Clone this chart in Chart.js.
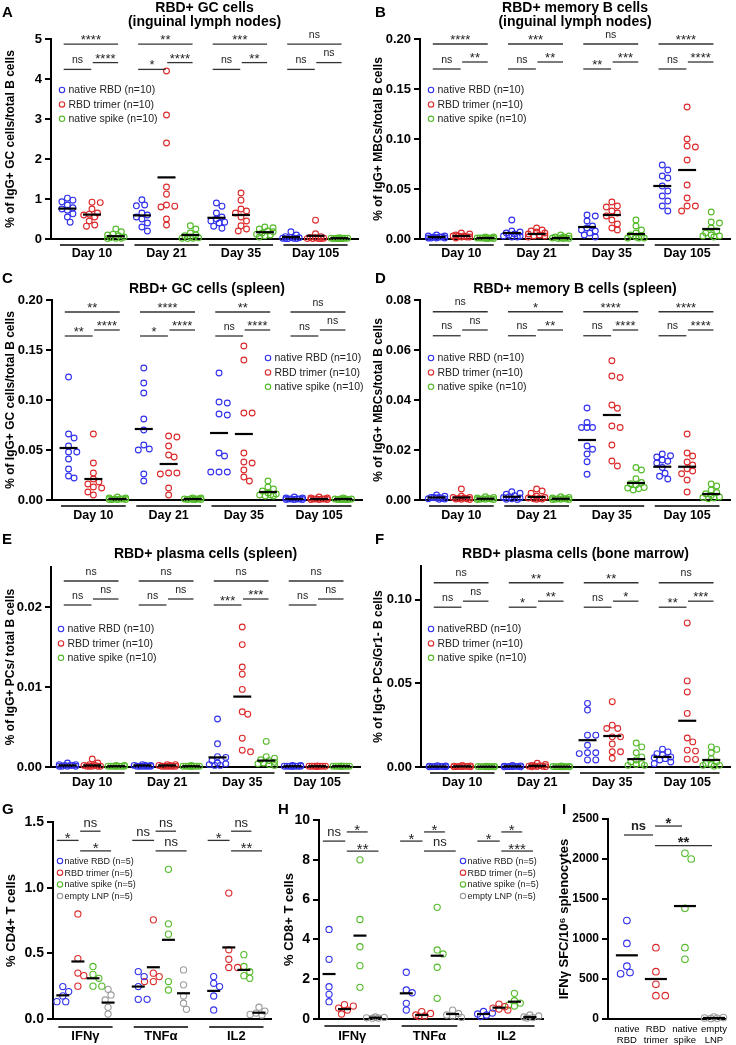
<!DOCTYPE html>
<html>
<head>
<meta charset="utf-8">
<script src="https://cdn.jsdelivr.net/npm/chart.js@4.4.1/dist/chart.umd.min.js"></script>
<style>
  body { margin: 0; background: #fff; width: 736px; height: 1045px; position: relative; overflow: hidden; }
</style>
</head>
<body>
<script>
// ---- categories / labels ----
const dayLabels = ['Day 10', 'Day 21', 'Day 35', 'Day 105'];
const cytokines = ['IFNγ', 'TNFα', 'IL2'];
const bNames = ['native RBD (n=10)', 'RBD trimer (n=10)', 'native spike (n=10)'];
const bNamesBm = ['nativeRBD (n=10)', 'RBD trimer (n=10)', 'native spike (n=10)'];
const tNames = ['native RBD (n=5)', 'RBD trimer (n=5)', 'native spike (n=5)', 'empty LNP (n=5)'];
const spotCats = [['native', 'RBD'], ['RBD', 'trimer'], ['native', 'spike'], ['empty', 'LNP']];

// ---- tick labels ----
const ticksA = [0, 1, 2, 3, 4, 5];
const ticksBC = [0, 0.05, 0.10, 0.15, 0.20];
const ticksD = [0, 0.02, 0.04, 0.06, 0.08];
const ticksE = [0, 0.01, 0.02];
const ticksF = [0, 0.05, 0.10];
const ticksG = [0, 0.5, 1.0, 1.5];
const ticksH = [0, 2, 4, 6, 8, 10];
const ticksI = [0, 500, 1000, 1500, 2000, 2500];

// ---- A: GC cells, inguinal LN (per day: 10 mice) ----
const gcLnRbd = [[1.02, 0.97, 0.93, 0.85, 0.78, 0.75, 0.72, 0.63, 0.55, 0.42], [0.98, 0.85, 0.83, 0.65, 0.6, 0.55, 0.5, 0.4, 0.3, 0.2], [0.9, 0.82, 0.65, 0.55, 0.5, 0.45, 0.42, 0.4, 0.32, 0.27], [0.18, 0.1, 0.06, 0.04, 0.03, 0.02, 0.02, 0.01, 0.01, 0.01]];
const gcLnTrimer = [[0.92, 0.91, 0.75, 0.65, 0.62, 0.6, 0.55, 0.45, 0.35, 0.32], [4.2, 3.1, 2.4, 1.3, 1.12, 0.85, 0.82, 0.8, 0.5, 0.35], [1.15, 0.97, 0.75, 0.7, 0.65, 0.55, 0.45, 0.33, 0.25, 0.2], [0.47, 0.13, 0.06, 0.04, 0.03, 0.02, 0.01, 0.01, 0.01, 0.01]];
const gcLnSpike = [[0.25, 0.18, 0.12, 0.1, 0.08, 0.05, 0.03, 0.02, 0.02, 0.01], [0.33, 0.25, 0.15, 0.1, 0.08, 0.05, 0.03, 0.02, 0.02, 0.01], [0.3, 0.28, 0.25, 0.2, 0.18, 0.15, 0.12, 0.1, 0.08, 0.05], [0.03, 0.02, 0.02, 0.02, 0.02, 0.02, 0.01, 0.01, 0.01, 0.01]];
const gcLnMean = [[0.76, 0.59, 0.53, 0.05], [0.61, 1.54, 0.6, 0.08], [0.07, 0.1, 0.17, 0.02]];
const gcLnSig = [['****', 'ns', '****'], ['**', '*', '****'], ['***', 'ns', '**'], ['ns', 'ns', 'ns']];

// ---- B: memory B cells, inguinal LN ----
const mbcLnRbd = [[0.004, 0.003, 0.003, 0.002, 0.002, 0.002, 0.001, 0.001, 0.001, 0.001], [0.019, 0.008, 0.007, 0.006, 0.005, 0.004, 0.003, 0.003, 0.002, 0.002], [0.024, 0.023, 0.018, 0.013, 0.011, 0.009, 0.008, 0.006, 0.004, 0.002], [0.074, 0.069, 0.063, 0.061, 0.053, 0.048, 0.043, 0.038, 0.033, 0.028]];
const mbcLnTrimer = [[0.006, 0.005, 0.004, 0.003, 0.003, 0.003, 0.002, 0.002, 0.002, 0.001], [0.011, 0.009, 0.008, 0.007, 0.006, 0.005, 0.004, 0.003, 0.003, 0.002], [0.037, 0.033, 0.032, 0.028, 0.026, 0.023, 0.019, 0.015, 0.011, 0.009], [0.132, 0.1, 0.093, 0.092, 0.079, 0.054, 0.041, 0.033, 0.033, 0.028]];
const mbcLnSpike = [[0.002, 0.002, 0.001, 0.001, 0.001, 0.001, 0.001, 0.0005, 0.0005, 0.0005], [0.004, 0.003, 0.002, 0.002, 0.001, 0.001, 0.001, 0.0005, 0.0005, 0.0005], [0.019, 0.013, 0.009, 0.006, 0.004, 0.003, 0.002, 0.001, 0.001, 0.001], [0.027, 0.017, 0.016, 0.011, 0.008, 0.006, 0.004, 0.003, 0.003, 0.002]];
const mbcLnMean = [[0.002, 0.006, 0.012, 0.053], [0.003, 0.005, 0.024, 0.069], [0.001, 0.001, 0.005, 0.010]];
const mbcLnSig = [['****', 'ns', '**'], ['***', 'ns', '**'], ['ns', '**', '***'], ['****', 'ns', '****']];

// ---- C: GC cells, spleen ----
const gcSpRbd = [[0.123, 0.066, 0.062, 0.054, 0.048, 0.048, 0.041, 0.031, 0.024, 0.022], [0.132, 0.117, 0.107, 0.081, 0.07, 0.055, 0.051, 0.05, 0.026, 0.019], [0.127, 0.098, 0.097, 0.086, 0.085, 0.047, 0.044, 0.028, 0.028, 0.028], [0.003, 0.002, 0.002, 0.001, 0.001, 0.001, 0.001, 0.0005, 0.0005, 0.0005]];
const gcSpTrimer = [[0.066, 0.037, 0.027, 0.021, 0.018, 0.016, 0.013, 0.012, 0.008, 0.005], [0.064, 0.063, 0.054, 0.045, 0.043, 0.027, 0.027, 0.026, 0.012, 0.005], [0.154, 0.14, 0.087, 0.087, 0.047, 0.038, 0.037, 0.03, 0.023, 0.019], [0.003, 0.002, 0.002, 0.001, 0.001, 0.001, 0.001, 0.0005, 0.0005, 0.0005]];
const gcSpSpike = [[0.003, 0.002, 0.002, 0.001, 0.001, 0.001, 0.0005, 0.0005, 0.0005, 0.0005], [0.002, 0.002, 0.001, 0.001, 0.001, 0.001, 0.0005, 0.0005, 0.0005, 0.0005], [0.019, 0.013, 0.011, 0.009, 0.007, 0.006, 0.005, 0.005, 0.004, 0.004], [0.002, 0.001, 0.001, 0.001, 0.001, 0.0005, 0.0005, 0.0005, 0.0005, 0.0005]];
const gcSpMean = [[0.052, 0.071, 0.067, 0.001], [0.021, 0.036, 0.066, 0.001], [0.001, 0.001, 0.008, 0.001]];
const gcSpSig = [['**', '**', '****'], ['****', '*', '****'], ['**', 'ns', '****'], ['ns', 'ns', 'ns']];

// ---- D: memory B cells, spleen ----
const mbcSpRbd = [[0.002, 0.0015, 0.001, 0.001, 0.001, 0.0008, 0.0006, 0.0005, 0.0004, 0.0003], [0.0033, 0.0027, 0.0023, 0.0017, 0.0012, 0.001, 0.0008, 0.0005, 0.0003, 0.0002], [0.0368, 0.031, 0.029, 0.029, 0.029, 0.0216, 0.0203, 0.0184, 0.0153, 0.0103], [0.0184, 0.0177, 0.0172, 0.016, 0.0155, 0.0148, 0.013, 0.0107, 0.0095, 0.0084]];
const mbcSpTrimer = [[0.0044, 0.0015, 0.001, 0.001, 0.0008, 0.0006, 0.0005, 0.0004, 0.0003, 0.0002], [0.0044, 0.0036, 0.0027, 0.0015, 0.001, 0.0008, 0.0006, 0.0005, 0.0004, 0.0003], [0.0557, 0.0496, 0.049, 0.038, 0.0367, 0.0296, 0.029, 0.022, 0.0156, 0.0136], [0.0264, 0.0188, 0.0176, 0.0152, 0.014, 0.0125, 0.0116, 0.0105, 0.008, 0.0032]];
const mbcSpSpike = [[0.0013, 0.001, 0.0008, 0.0006, 0.0005, 0.0004, 0.0003, 0.0003, 0.0002, 0.0002], [0.0013, 0.001, 0.0008, 0.0006, 0.0005, 0.0004, 0.0003, 0.0003, 0.0002, 0.0002], [0.013, 0.012, 0.0085, 0.007, 0.0065, 0.006, 0.005, 0.0048, 0.0045, 0.004], [0.0064, 0.0056, 0.004, 0.003, 0.0025, 0.0018, 0.0012, 0.001, 0.0008, 0.0005]];
const mbcSpMean = [[0.001, 0.0013, 0.024, 0.0133], [0.001, 0.0012, 0.034, 0.0133], [0.0005, 0.0005, 0.0068, 0.0024]];
const mbcSpSig = [['ns', 'ns', 'ns'], ['*', 'ns', '**'], ['****', 'ns', '****'], ['****', 'ns', '****']];

// ---- E: plasma cells, spleen ----
const pcSpRbd = [[0.0005, 0.0003, 0.0003, 0.0002, 0.0002, 0.0002, 0.0001, 0.0001, 0.0001, 0.0001], [0.0003, 0.0002, 0.0002, 0.0002, 0.0001, 0.0001, 0.0001, 0.0001, 0.0001, 0.0001], [0.006, 0.0029, 0.0013, 0.0012, 0.0008, 0.0005, 0.0004, 0.0003, 0.0002, 0.0002], [0.0002, 0.0002, 0.0001, 0.0001, 0.0001, 0.0001, 0.0001, 0.0001, 0.0001, 0.0001]];
const pcSpTrimer = [[0.001, 0.0005, 0.0003, 0.0002, 0.0002, 0.0001, 0.0001, 0.0001, 0.0001, 0.0001], [0.0003, 0.0003, 0.0002, 0.0002, 0.0001, 0.0001, 0.0001, 0.0001, 0.0001, 0.0001], [0.0175, 0.0153, 0.0125, 0.0116, 0.0097, 0.0069, 0.0066, 0.0036, 0.0021, 0.0019], [0.0001, 0.0001, 0.0001, 0.0001, 0.0001, 0.0001, 0.0001, 0.0001, 0.0001, 0.0001]];
const pcSpSpike = [[0.0002, 0.0002, 0.0001, 0.0001, 0.0001, 0.0001, 0.0001, 0.0001, 0.0001, 0.0001], [0.0002, 0.0001, 0.0001, 0.0001, 0.0001, 0.0001, 0.0001, 0.0001, 0.0001, 0.0001], [0.0032, 0.0013, 0.0011, 0.0009, 0.0008, 0.0006, 0.0005, 0.0004, 0.0003, 0.0002], [0.0001, 0.0001, 0.0001, 0.0001, 0.0001, 0.0001, 0.0001, 0.0001, 0.0001, 0.0001]];
const pcSpMean = [[0.0002, 0.0002, 0.0012, 0.0001], [0.0002, 0.0002, 0.0088, 0.0001], [0.0001, 0.0001, 0.0008, 0.0001]];
const pcSpSig = [['ns', 'ns', 'ns'], ['ns', 'ns', 'ns'], ['ns', '***', '***'], ['ns', 'ns', 'ns']];

// ---- F: plasma cells, bone marrow ----
const pcBmRbd = [[0.0008, 0.0006, 0.0005, 0.0004, 0.0003, 0.0003, 0.0002, 0.0002, 0.0001, 0.0001], [0.0009, 0.0007, 0.0005, 0.0004, 0.0003, 0.0003, 0.0002, 0.0002, 0.0001, 0.0001], [0.038, 0.034, 0.019, 0.019, 0.013, 0.0085, 0.0085, 0.008, 0.0042, 0.0042], [0.0107, 0.009, 0.008, 0.0072, 0.006, 0.0055, 0.005, 0.0042, 0.003, 0.002]];
const pcBmTrimer = [[0.001, 0.0007, 0.0005, 0.0004, 0.0003, 0.0003, 0.0002, 0.0002, 0.0001, 0.0001], [0.0022, 0.0015, 0.001, 0.0008, 0.0006, 0.0005, 0.0004, 0.0003, 0.0002, 0.0001], [0.039, 0.025, 0.023, 0.023, 0.018, 0.018, 0.0137, 0.0091, 0.0091, 0.0052], [0.086, 0.0514, 0.0448, 0.032, 0.0173, 0.015, 0.0101, 0.0095, 0.0047, 0.0045]];
const pcBmSpike = [[0.0005, 0.0004, 0.0003, 0.0003, 0.0002, 0.0002, 0.0002, 0.0001, 0.0001, 0.0001], [0.0006, 0.0004, 0.0003, 0.0003, 0.0002, 0.0002, 0.0002, 0.0001, 0.0001, 0.0001], [0.0143, 0.012, 0.0085, 0.006, 0.0042, 0.003, 0.002, 0.0015, 0.001, 0.001], [0.012, 0.0105, 0.0085, 0.005, 0.003, 0.002, 0.0015, 0.001, 0.001, 0.0005]];
const pcBmMean = [[0.0003, 0.0004, 0.016, 0.006], [0.0004, 0.0007, 0.0185, 0.0276], [0.0002, 0.0002, 0.0047, 0.0042]];
const pcBmSig = [['ns', 'ns', 'ns'], ['**', '*', '**'], ['**', 'ns', '*'], ['ns', '**', '***']];

// ---- G: CD4+ T cells (5 mice) ----
const cd4Rbd = [[0.247, 0.209, 0.176, 0.132, 0.132], [0.361, 0.323, 0.247, 0.15, 0.15], [0.323, 0.272, 0.247, 0.175, 0.069]];
const cd4Trimer = [[0.8, 0.46, 0.35, 0.33, 0.25], [0.755, 0.349, 0.323, 0.285, 0.285], [0.959, 0.527, 0.455, 0.392, 0.392]];
const cd4Spike = [[0.4, 0.34, 0.31, 0.25, 0.25], [1.14, 0.725, 0.646, 0.285, 0.221], [0.49, 0.4, 0.36, 0.33, 0.31]];
const cd4Lnp = [[0.226, 0.183, 0.145, 0.089, 0.038], [0.374, 0.26, 0.175, 0.12, 0.074], [0.09, 0.06, 0.045, 0.035, 0.03]];
const cd4Mean = [[0.18, 0.247, 0.214], [0.438, 0.394, 0.545], [0.31, 0.603, 0.374], [0.125, 0.196, 0.048]];
const cd4Sig = [['*', 'ns', '*'], ['ns', 'ns', 'ns'], ['*', 'ns', '**']];

// ---- H: CD8+ T cells ----
const cd8Rbd = [[4.5, 3.0, 1.62, 1.24, 0.87], [2.35, 1.46, 1.32, 0.79, 0.45], [0.38, 0.3, 0.25, 0.2, 0.12]];
const cd8Trimer = [[0.72, 0.65, 0.55, 0.45, 0.25], [0.37, 0.28, 0.2, 0.15, 0.12], [0.75, 0.62, 0.55, 0.5, 0.45]];
const cd8Spike = [[8.0, 5.0, 3.63, 2.68, 1.59], [5.61, 3.47, 3.27, 2.6, 1.04], [1.29, 0.92, 0.8, 0.7, 0.65]];
const cd8Lnp = [[0.1, 0.08, 0.06, 0.05, 0.04], [0.45, 0.28, 0.2, 0.15, 0.08], [0.2, 0.15, 0.1, 0.07, 0.05]];
const cd8Mean = [[2.26, 1.29, 0.25], [0.5, 0.2, 0.57], [4.19, 3.18, 0.87], [0.07, 0.25, 0.1]];
const cd8Sig = [['ns', '*', '**'], ['*', '*', 'ns'], ['*', '*', '***']];

// ---- I: IFNγ ELISpot ----
const spotValues = [[1230, 945, 660, 580, 565], [892, 592, 433, 292, 292], [2071, 2000, 1383, 892, 746], [25, 18, 12, 8, 5]];
const spotMean = [796, 500, 1412, 13];
const spotSig = ['ns', '*', '**'];

// ---- drawing helpers ----
const FONT = "'Liberation Sans', Arial, sans-serif";
const COLORS = ['#3131ec', '#dc2a2c', '#55bb2b', '#9b9b9b'];
Chart.defaults.font.family = FONT;
Chart.defaults.color = '#000';

// three brackets per day: group1-3 (top), group1-2, group2-3
function dayBrackets(sig, lv) {
  return sig.flatMap((s, g) => [
    { x1: g - 0.38, x2: g + 0.35, y: lv[0], text: s[0] },
    { x1: g - 0.38, x2: g - 0.01, y: lv[1], text: s[1] },
    { x1: g + 0.01, x2: g + 0.35, y: lv[2], text: s[2] }
  ]);
}
// T cell brackets: rbd-trimer, trimer-spike, trimer-LNP
function tBrackets(sig, lv) {
  return sig.flatMap((s, g) => [
    { x1: g - 0.38, x2: g - 0.09, y: lv[0], text: s[0] },
    { x1: g - 0.07, x2: g + 0.2, y: lv[1], text: s[1] },
    { x1: g - 0.07, x2: g + 0.34, y: lv[2], text: s[2] }
  ]);
}

const sigSmall = { ns: '10.5px', nsLift: 6.3, star: '13px', starDrop: 0 };
const sigBig = { ns: '13px', nsLift: 4.6, star: '15px', starDrop: 2.6 };
const sigBold = { ns: 'bold 13px', nsLift: 4.6, star: 'bold 15px', starDrop: 1.6 };

const dayOffsets = [-0.33, 0, 0.32];
const tOffsets = [-0.3, -0.1, 0.1, 0.3];
const daySlot = (g, s) => g + dayOffsets[s];
const tSlot = (g, s) => g + tOffsets[s];

function decor(p) {
  return {
    id: 'decor' + p.letter[0],
    afterDatasetsUpdate(chart) {
      // compact beeswarm: overlapping circles spread a little sideways
      const r = p.r, minD = 2 * r, step = r * 0.95;
      chart.data.datasets.forEach((ds, i) => {
        const meta = chart.getDatasetMeta(i);
        const groups = {};
        meta.data.forEach((el, j) => {
          const k = ds.data[j].x;
          (groups[k] = groups[k] || []).push(el);
        });
        Object.values(groups).forEach(els => {
          const base = els[0].x;
          els.sort((a, b) => a.y - b.y);
          const placed = [];
          els.forEach(el => {
            let best = 0, bestD = -1;
            for (let k = 0; k <= 6; k++) {
              const off = (k % 2 ? 1 : -1) * Math.ceil(k / 2) * step;
              let near = Infinity;
              placed.forEach(q => { near = Math.min(near, Math.hypot(q.x - (base + off), q.y - el.y)); });
              if (near >= minD) { best = off; break; }
              if (near > bestD + 0.01) { bestD = near; best = off; }
            }
            el.x = base + best;
            placed.push({ x: el.x, y: el.y });
          });
        });
      });
    },
    afterDatasetsDraw(chart) {
      const { ctx, scales: { x, y } } = chart;
      ctx.save();
      ctx.strokeStyle = '#000';
      ctx.lineWidth = 2.2;
      chart.data.datasets.forEach(ds => {
        ds.means.forEach((m, g) => {
          const cx = x.getPixelForValue(ds.slots[g]);
          const py = y.getPixelForValue(m);
          ctx.beginPath();
          ctx.moveTo(cx - p.meanHalf, py);
          ctx.lineTo(cx + p.meanHalf, py);
          ctx.stroke();
        });
      });
      ctx.restore();
    },
    afterDraw(chart) {
      const { ctx, chartArea: ca, scales: { x, y } } = chart;
      ctx.save();
      ctx.fillStyle = '#000';
      ctx.textBaseline = 'alphabetic';

      ctx.font = 'bold 15px ' + FONT;
      ctx.textAlign = 'left';
      ctx.fillText(p.letter[0], p.letter[1], p.letter[2]);

      if (p.title) {
        ctx.font = 'bold 14px ' + FONT;
        ctx.textAlign = 'center';
        p.title.forEach(t => ctx.fillText(t[0], (ca.left + ca.right) / 2, t[1]));
      }

      if (p.under) {
        ctx.strokeStyle = '#000';
        ctx.lineWidth = 1.5;
        p.cats.forEach((_, g) => {
          const yy = ca.bottom + p.under.gap;
          ctx.beginPath();
          ctx.moveTo(x.getPixelForValue(g - p.under.half), yy);
          ctx.lineTo(x.getPixelForValue(g + p.under.half), yy);
          ctx.stroke();
        });
      }

      ctx.strokeStyle = '#333';
      ctx.fillStyle = '#222';
      ctx.lineWidth = 1.3;
      ctx.textAlign = 'center';
      p.brackets.forEach(b => {
        const x1 = x.getPixelForValue(b.x1), x2 = x.getPixelForValue(b.x2), yy = y.getPixelForValue(b.y);
        ctx.beginPath();
        ctx.moveTo(x1, yy);
        ctx.lineTo(x2, yy);
        ctx.stroke();
        const star = b.text.indexOf('*') >= 0;
        ctx.font = (star ? p.sig.star : p.sig.ns) + ' ' + FONT;
        ctx.fillText(b.text, (x1 + x2) / 2, star ? yy + p.sig.starDrop : yy - p.sig.nsLift);
      });

      if (p.legend) {
        const L = p.legend;
        ctx.textAlign = 'left';
        ctx.textBaseline = 'middle';
        ctx.font = L.font + 'px ' + FONT;
        ctx.lineWidth = 1.1;
        chart.data.datasets.forEach((ds, i) => {
          const lx = ca.left + L.dx, ly = ca.top + L.dy + i * L.row;
          ctx.strokeStyle = COLORS[i];
          ctx.beginPath();
          ctx.arc(lx, ly, L.r, 0, Math.PI * 2);
          ctx.stroke();
          ctx.fillStyle = '#222';
          ctx.fillText(ds.label, lx + L.tx, ly + 0.5);
        });
      }
      ctx.restore();
    }
  };
}

function drawPanel(p) {
  const [left, top, w, h] = p.box;
  const cv = document.createElement('canvas');
  cv.width = w;
  cv.height = h;
  cv.style.cssText = 'position:absolute;left:' + left + 'px;top:' + top + 'px;width:' + w + 'px;height:' + h + 'px';
  document.body.appendChild(cv);

  const datasets = p.series.map((cols, s) => {
    const slots = cols.map((_, g) => p.slot(g, s));
    return {
      label: p.names[s],
      data: cols.flatMap((col, g) => col.map(v => ({ x: slots[g], y: v }))),
      slots: slots,
      means: p.means[s],
      pointRadius: p.r,
      pointHoverRadius: p.r,
      pointBorderWidth: 1.1,
      pointBorderColor: COLORS[s],
      pointBackgroundColor: 'rgba(0,0,0,0)',
      borderColor: COLORS[s],
      showLine: false,
      clip: false
    };
  });

  new Chart(cv, {
    type: 'scatter',
    data: { datasets: datasets },
    options: {
      responsive: false,
      animation: false,
      events: [],
      layout: { padding: { top: p.pad[0], right: p.pad[1], bottom: 0, left: 0 } },
      plugins: { legend: { display: false }, tooltip: { enabled: false } },
      scales: {
        x: {
          type: 'linear',
          min: p.xr[0],
          max: p.xr[1],
          afterBuildTicks: s => { s.ticks = p.cats.map((_, i) => ({ value: i })); },
          afterFit: s => { s.height = p.xHeight; },
          border: { display: true, color: '#000', width: 2 },
          grid: { display: false, drawTicks: false },
          ticks: {
            autoSkip: false, maxRotation: 0, color: '#000', padding: p.xPad,
            font: p.xFont,
            callback: v => p.cats[Math.round(v)]
          }
        },
        y: {
          min: p.yr[0],
          max: p.yr[1],
          afterBuildTicks: s => { s.ticks = p.yTicks.map(v => ({ value: v })); },
          afterFit: s => { s.width = p.yWidth; },
          border: { display: true, color: '#000', width: 2 },
          grid: { drawOnChartArea: false, drawTicks: true, tickLength: 6, color: '#000', lineWidth: 2 },
          ticks: { color: '#000', padding: 3, font: { size: p.tickSize, weight: 'bold' }, callback: v => v.toFixed(p.dec) },
          title: { display: true, text: p.yTitle, color: '#000', font: { size: p.yTitleSize, weight: 'bold' }, padding: { top: p.yTitlePad, bottom: 0 } }
        }
      }
    },
    plugins: [decor(p)]
  });
}

const dayFont = { size: 12.5, weight: 'bold' };
const xrDays = [-0.55, 3.57];
const dayLegend = (dx, dy) => ({ dx: dx, dy: dy, row: 14.4, tx: 6.5, font: 10.5, r: 2.7 });
const tLegend = (dx, dy) => ({ dx: dx, dy: dy, row: 11.7, tx: 4.5, font: 9, r: 2.7 });

const panels = [
  { letter: ['A', 2, 17], box: [0, 0, 368, 268], pad: [39, 10], yWidth: 51, xHeight: 29, xPad: 7.5,
    yr: [0, 5], yTicks: ticksA, dec: 0, yTitle: '% of IgG+ GC cells/total B cells',
    title: [['RBD+ GC cells', 12], ['(inguinal lymph nodes)', 26]],
    series: [gcLnRbd, gcLnTrimer, gcLnSpike], means: gcLnMean, names: bNames,
    brackets: dayBrackets(gcLnSig, [4.87, 4.24, 4.41]), legend: dayLegend(11, 51) },
  { letter: ['B', 7, 17], box: [368, 0, 368, 268], pad: [39, 6], yWidth: 52, xHeight: 29, xPad: 7.5,
    yr: [0, 0.2], yTicks: ticksBC, dec: 2, yTitle: '% of IgG+ MBCs/total B cells',
    title: [['RBD+ memory B cells', 12], ['(inguinal lymph nodes)', 26]],
    series: [mbcLnRbd, mbcLnTrimer, mbcLnSpike], means: mbcLnMean, names: bNames,
    brackets: dayBrackets(mbcLnSig, [0.195, 0.170, 0.177]), legend: dayLegend(11, 51) },
  { letter: ['C', 2, 15], box: [0, 268, 368, 262], pad: [32, 6], yWidth: 52, xHeight: 30, xPad: 8.5,
    yr: [0, 0.2], yTicks: ticksBC, dec: 2, yTitle: '% of IgG+ GC cells/total B cells',
    title: [['RBD+ GC cells (spleen)', 25]],
    series: [gcSpRbd, gcSpTrimer, gcSpSpike], means: gcSpMean, names: bNames,
    brackets: dayBrackets(gcSpSig, [0.188, 0.164, 0.170]), legend: dayLegend(216, 58) },
  { letter: ['D', 7, 15], box: [368, 268, 368, 262], pad: [32, 6], yWidth: 52, xHeight: 30, xPad: 8.5,
    yr: [0, 0.08], yTicks: ticksD, dec: 2, yTitle: '% of IgG+ MBCs/total B cells',
    title: [['RBD+ memory B cells (spleen)', 25]],
    series: [mbcSpRbd, mbcSpTrimer, mbcSpSpike], means: mbcSpMean, names: bNames,
    brackets: dayBrackets(mbcSpSig, [0.0753, 0.0657, 0.068]), legend: dayLegend(11, 58) },
  { letter: ['E', 2, 14], box: [0, 530, 368, 265], pad: [37, 8], yWidth: 51, xHeight: 28, xPad: 8.5,
    yr: [0, 0.025], yTicks: ticksE, dec: 2, yTitle: '% of IgG+ PCs/ total B cells',
    title: [['RBD+ plasma cells (spleen)', 28]],
    series: [pcSpRbd, pcSpTrimer, pcSpSpike], means: pcSpMean, names: bNames,
    brackets: dayBrackets(pcSpSig, [0.02325, 0.02025, 0.0210]), legend: dayLegend(10, 62) },
  { letter: ['F', 7, 14], box: [368, 530, 368, 265], pad: [36, 6], yWidth: 53, xHeight: 28, xPad: 8.5,
    yr: [0, 0.12], yTicks: ticksF, dec: 2, yTitle: '% of IgG+ PCs/Gr1- B cells',
    title: [['RBD+ plasma cells (bone marrow)', 28]],
    series: [pcBmRbd, pcBmTrimer, pcBmSpike], means: pcBmMean, names: bNamesBm,
    brackets: dayBrackets(pcBmSig, [0.110, 0.0954, 0.099]), legend: dayLegend(10, 63) }
].map(p => Object.assign({
  cats: dayLabels, xr: xrDays, slot: daySlot, r: 2.9, meanHalf: 9, tickSize: 13, yTitleSize: 12, yTitlePad: 3,
  xFont: dayFont, under: { half: 0.43, gap: 6 }, sig: sigSmall
}, p));

panels.push(
  { letter: ['G', 2, 19], box: [0, 795, 276, 250], pad: [27, 0], yWidth: 53, xHeight: 26, xPad: 10,
    cats: cytokines, xr: [-0.43, 2.47], slot: tSlot, r: 3.1, meanHalf: 6.5,
    yr: [0, 1.5], yTicks: ticksG, dec: 1, tickSize: 14, yTitle: '% CD4+ T cells', yTitleSize: 13, yTitlePad: 4,
    xFont: { size: 13, weight: 'bold' }, under: { half: 0.36, gap: 8 }, sig: sigBig,
    series: [cd4Rbd, cd4Trimer, cd4Spike, cd4Lnp], means: cd4Mean, names: tNames,
    brackets: tBrackets(cd4Sig, [1.36, 1.43, 1.28]), legend: tLegend(7, 39) },
  { letter: ['H', 2, 19], box: [276, 795, 274, 250], pad: [25, 7], yWidth: 43, xHeight: 26, xPad: 9.5,
    cats: cytokines, xr: [-0.43, 2.47], slot: tSlot, r: 3.1, meanHalf: 6.5,
    yr: [0, 10], yTicks: ticksH, dec: 0, tickSize: 14, yTitle: '% CD8+ T cells', yTitleSize: 13, yTitlePad: 6,
    xFont: { size: 13, weight: 'bold' }, under: { half: 0.36, gap: 7 }, sig: sigBig,
    series: [cd8Rbd, cd8Trimer, cd8Spike, cd8Lnp], means: cd8Mean, names: tNames,
    brackets: tBrackets(cd8Sig, [8.94, 9.40, 8.44]), legend: tLegend(144, 41) },
  { letter: ['I', 12, 19], box: [550, 795, 186, 250], pad: [24, 11], yWidth: 58, xHeight: 26, xPad: 4.3,
    cats: spotCats, xr: [-0.65, 3.38], slot: (g, s) => s, r: 3.3, meanHalf: 11,
    yr: [0, 2500], yTicks: ticksI, dec: 0, tickSize: 12, yTitle: 'IFNγ SFC/10⁶ splenocytes', yTitleSize: 13, yTitlePad: 7,
    xFont: { size: 9.5, weight: 'normal' }, under: null, sig: sigBold,
    series: spotValues.map(v => [v]), means: spotMean.map(m => [m]), names: spotCats.map(c => c.join(' ')),
    brackets: [
      { x1: -0.1, x2: 0.9, y: 2300, text: spotSig[0] },
      { x1: 0.97, x2: 1.9, y: 2412, text: spotSig[1] },
      { x1: 0.97, x2: 2.93, y: 2167, text: spotSig[2] }
    ], legend: null }
);

panels.forEach(drawPanel);
</script>
</body>
</html>
